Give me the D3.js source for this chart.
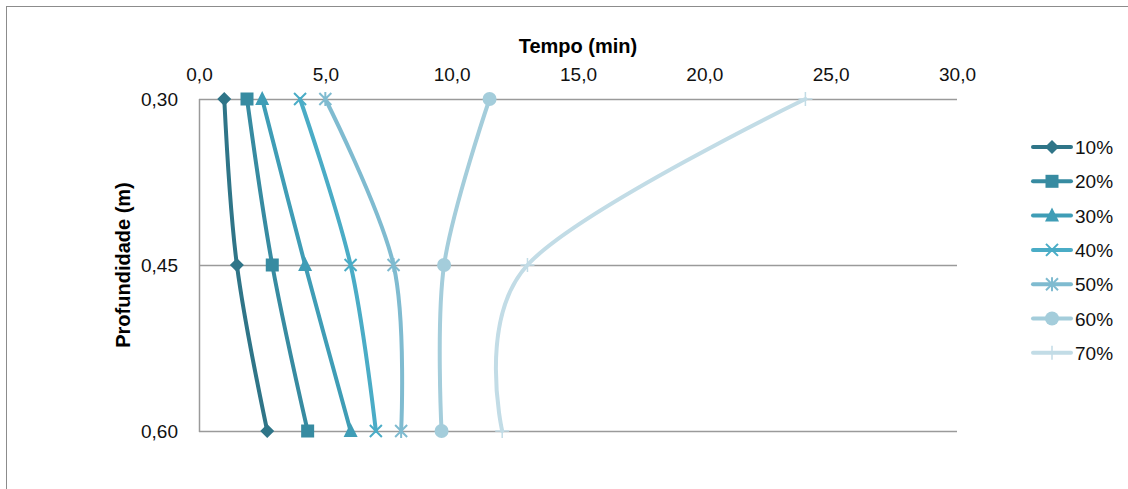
<!DOCTYPE html>
<html>
<head>
<meta charset="utf-8">
<script src="https://cdn.jsdelivr.net/npm/d3@7"></script>
<style>
  html, body { margin: 0; padding: 0; background: #fff; }
  svg { display: block; font-family: "Liberation Sans", Arial, sans-serif; }
</style>
</head>
<body>
<div id="chart"></div>
<script>
// Depth (m) vs time (min), one series per percentage
const depths = [0.30, 0.45, 0.60]
const seriesNames = ["10%", "20%", "30%", "40%", "50%", "60%", "70%"]
const s10 = [1.0, 1.5, 2.7]
const s20 = [1.9, 2.9, 4.3]
const s30 = [2.5, 4.2, 6.0]
const s40 = [4.0, 6.0, 7.0]
const s50 = [5.0, 7.7, 8.0]
const s60 = [11.5, 9.7, 9.6]
const s70 = [24.0, 13.0, 12.0]
const xTicks = [0, 5, 10, 15, 20, 25, 30]
const yTicks = [0.30, 0.45, 0.60]

const seriesValues = [s10, s20, s30, s40, s50, s60, s70]
const colors = ["#2f7588", "#378ba1", "#3f9db6", "#4aacc6", "#7fbbd0", "#a4cddb", "#c2dce6"]
const markers = ["diamond", "square", "triangle", "x", "star", "circle", "plus"]

const W = 1128, H = 489
const svg = d3.select("#chart").append("svg")
  .attr("width", W)
  .attr("height", H)

// outer frame
svg.append("rect")
  .attr("x", 6.5).attr("y", 6.5)
  .attr("width", W).attr("height", H)
  .attr("fill", "#fff")
  .attr("stroke", "#8c8c8c")
  .attr("stroke-width", 1)

const x = d3.scaleLinear().domain([0, 30]).range([199, 957])
const y = d3.scaleLinear().domain([0.30, 0.60]).range([99, 431])

const fmt = (d, n) => d.toFixed(n).replace(".", ",")

// Grid lines
svg.append("g")
  .selectAll("line")
  .data(yTicks)
  .enter()
  .append("line")
  .attr("x1", x(0))
  .attr("x2", x(30))
  .attr("y1", d => Math.round(y(d)) + 0.5)
  .attr("y2", d => Math.round(y(d)) + 0.5)
  .attr("stroke", "#9a9a9a")
  .attr("stroke-width", 1.5)

// Left axis line
svg.append("line")
  .attr("x1", x(0) + 0.5).attr("x2", x(0) + 0.5)
  .attr("y1", y(0.30)).attr("y2", y(0.60) + 1)
  .attr("stroke", "#9a9a9a")
  .attr("stroke-width", 1.5)

// Axes
const xAxis = svg.append("g")
  .attr("transform", `translate(0,${y(0.30)})`)
  .call(d3.axisTop(x).tickValues(xTicks).tickSize(0).tickPadding(18).tickFormat(d => fmt(d, 1)))
xAxis.select(".domain").remove()
xAxis.selectAll("text").attr("font-size", 19).attr("fill", "#111").attr("font-family", null)

const yAxis = svg.append("g")
  .attr("transform", `translate(${x(0)},0)`)
  .call(d3.axisLeft(y).tickValues(yTicks).tickSize(0).tickPadding(21).tickFormat(d => fmt(d, 2)))
yAxis.select(".domain").remove()
yAxis.selectAll("text").attr("font-size", 19).attr("fill", "#111").attr("font-family", null)

// Axis titles
svg.append("text")
  .attr("x", (x(0) + x(30)) / 2)
  .attr("y", 53)
  .attr("text-anchor", "middle")
  .attr("font-size", 20)
  .attr("font-weight", "bold")
  .attr("fill", "#000")
  .text("Tempo (min)")

svg.append("text")
  .attr("transform", `translate(130,${(y(0.30) + y(0.60)) / 2}) rotate(-90)`)
  .attr("text-anchor", "middle")
  .attr("font-size", 20)
  .attr("font-weight", "bold")
  .attr("fill", "#000")
  .text("Profundidade (m)")

// Marker drawing
function drawMarker(g, type, color) {
  if (type === "diamond") {
    g.append("path").attr("d", "M0,-7L7,0L0,7L-7,0Z").attr("fill", color)
  } else if (type === "square") {
    g.append("rect").attr("x", -6.5).attr("y", -6.5).attr("width", 13).attr("height", 13).attr("fill", color)
  } else if (type === "triangle") {
    g.append("path").attr("d", "M0,-8L7,6L-7,6Z").attr("fill", color)
  } else if (type === "x") {
    g.append("path").attr("d", "M-6,-6L6,6M-6,6L6,-6").attr("stroke", color).attr("stroke-width", 2)
  } else if (type === "star") {
    g.append("path").attr("d", "M-6,-6L6,6M-6,6L6,-6M0,-7L0,7").attr("stroke", color).attr("stroke-width", 2)
  } else if (type === "circle") {
    g.append("circle").attr("r", 7).attr("fill", color)
  } else if (type === "plus") {
    g.append("path").attr("d", "M-7,0L7,0M0,-7L0,7").attr("stroke", color).attr("stroke-width", 1.5)
  }
}

const line = d3.line()
  .x(d => x(d.t))
  .y(d => y(d.z))
  .curve(d3.curveCatmullRom.alpha(0))

seriesNames.forEach((name, i) => {
  const pts = depths.map((z, j) => ({ z, t: seriesValues[i][j] }))
  svg.append("path")
    .datum(pts)
    .attr("fill", "none")
    .attr("stroke", colors[i])
    .attr("stroke-width", 4)
    .attr("stroke-linecap", "round")
    .attr("d", line)

  pts.forEach(p => {
    const g = svg.append("g").attr("transform", `translate(${x(p.t)},${y(p.z)})`)
    drawMarker(g, markers[i], colors[i])
  })
})

// Legend
const legend = svg.append("g")
seriesNames.forEach((name, i) => {
  const ly = 147 + i * 34.3
  legend.append("line")
    .attr("x1", 1033).attr("x2", 1071)
    .attr("y1", ly).attr("y2", ly)
    .attr("stroke", colors[i])
    .attr("stroke-width", 4)
    .attr("stroke-linecap", "round")
  const g = legend.append("g").attr("transform", `translate(1052,${ly})`)
  drawMarker(g, markers[i], colors[i])
  legend.append("text")
    .attr("x", 1075)
    .attr("y", ly + 7)
    .attr("font-size", 19)
    .attr("fill", "#111")
    .text(name)
})
</script>
</body>
</html>
